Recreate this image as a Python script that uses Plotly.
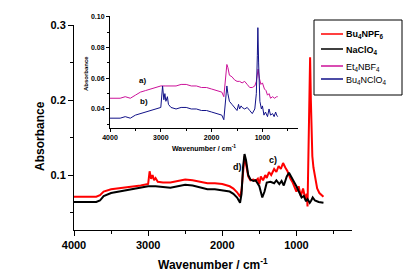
import plotly.graph_objects as go

# ---------------- main spectra ----------------
main_wn_black = [4000, 3700, 3650, 3600, 3500, 3400, 3300, 3200, 3100, 3000, 2900, 2800, 2700, 2600, 2500,
                 2400, 2300, 2200, 2100, 2000, 1900, 1850, 1800, 1760, 1740, 1720, 1700, 1680, 1650, 1620,
                 1580, 1550, 1500, 1460, 1430, 1400, 1350, 1300, 1270, 1230, 1200, 1170, 1130, 1100, 1080,
                 1050, 1000, 960, 930, 900, 870, 850, 820, 800, 780, 750, 700, 635]
naclo4 = [0.064, 0.064, 0.066, 0.072, 0.076, 0.078, 0.079, 0.082, 0.084, 0.085, 0.085, 0.084, 0.083, 0.085, 0.087,
          0.086, 0.083, 0.081, 0.081, 0.080, 0.078, 0.075, 0.070, 0.063, 0.075, 0.110, 0.128, 0.120, 0.100, 0.094,
          0.092, 0.093, 0.085, 0.070, 0.078, 0.090, 0.091, 0.089, 0.093, 0.088, 0.092, 0.086, 0.098, 0.103, 0.100,
          0.094, 0.085, 0.075, 0.070, 0.072, 0.065, 0.068, 0.063, 0.066, 0.070, 0.066, 0.064, 0.063]

main_wn_red = [4000, 3700, 3650, 3600, 3500, 3400, 3300, 3200, 3100, 3000, 2980, 2960, 2940, 2920, 2900, 2870,
               2800, 2700, 2600, 2500, 2400, 2300, 2200, 2100, 2000, 1900, 1850, 1800, 1760, 1740, 1720, 1700,
               1680, 1650, 1620, 1580, 1550, 1520, 1500, 1480, 1450, 1420, 1400, 1370, 1340, 1300, 1270, 1240,
               1210, 1180, 1150, 1120, 1080, 1050, 1000, 970, 940, 910, 880, 860, 850, 830, 815, 805, 795, 785,
               770, 757, 740, 720, 690, 660, 635]
bu4npf6 = [0.071, 0.071, 0.073, 0.078, 0.081, 0.082, 0.084, 0.085, 0.086, 0.088, 0.105, 0.095, 0.100, 0.093, 0.096, 0.091,
           0.090, 0.090, 0.092, 0.094, 0.093, 0.091, 0.089, 0.089, 0.088, 0.085, 0.082, 0.077, 0.071, 0.080, 0.108, 0.125,
           0.115, 0.098, 0.093, 0.094, 0.092, 0.095, 0.088, 0.098, 0.093, 0.100, 0.096, 0.104, 0.100, 0.108, 0.104, 0.112,
           0.108, 0.116, 0.110, 0.105, 0.095, 0.090, 0.078, 0.085, 0.072, 0.082, 0.068, 0.075, 0.058, 0.150, 0.257, 0.200,
           0.150, 0.125, 0.110, 0.103, 0.090, 0.082, 0.076, 0.073, 0.071]

# ---------------- inset spectra ----------------
inset_wn_mag = [4000, 3800, 3700, 3600, 3500, 3400, 3300, 3200, 3100, 3000, 2900, 2800, 2700, 2600, 2500, 2400,
                2300, 2200, 2100, 2000, 1900, 1800, 1760, 1730, 1700, 1680, 1650, 1600, 1550, 1500, 1450, 1400,
                1350, 1300, 1250, 1200, 1150, 1120, 1100, 1085, 1060, 1030, 1000, 960, 930, 900, 870, 840, 800,
                760, 720, 700]
et4nbf4 = [0.047, 0.047, 0.048, 0.047, 0.049, 0.051, 0.052, 0.053, 0.054, 0.055, 0.055, 0.055, 0.055, 0.056, 0.056, 0.055,
           0.055, 0.054, 0.054, 0.053, 0.052, 0.051, 0.048, 0.058, 0.069, 0.067, 0.062, 0.061, 0.059, 0.058, 0.058, 0.057,
           0.058, 0.056, 0.054, 0.054, 0.055, 0.058, 0.064, 0.066, 0.060, 0.056, 0.057, 0.053, 0.052, 0.049, 0.050, 0.047,
           0.048, 0.047, 0.048, 0.048]

inset_wn_blue = [4000, 3800, 3700, 3600, 3500, 3400, 3300, 3200, 3100, 3000, 2965, 2940, 2920, 2900, 2870, 2850,
                 2800, 2700, 2600, 2500, 2400, 2300, 2200, 2100, 2000, 1900, 1800, 1760, 1730, 1700, 1680, 1650,
                 1600, 1550, 1500, 1470, 1450, 1420, 1400, 1350, 1300, 1250, 1200, 1150, 1120, 1100, 1090, 1075,
                 1050, 1020, 1000, 970, 940, 900, 870, 840, 800, 770, 740, 720, 700]
bu4nclo4 = [0.034, 0.034, 0.035, 0.034, 0.036, 0.037, 0.038, 0.039, 0.040, 0.041, 0.055, 0.046, 0.050, 0.045, 0.048, 0.043,
            0.041, 0.040, 0.041, 0.041, 0.040, 0.040, 0.039, 0.039, 0.038, 0.037, 0.036, 0.033, 0.045, 0.055, 0.050, 0.045,
            0.043, 0.041, 0.039, 0.043, 0.040, 0.042, 0.041, 0.040, 0.041, 0.039, 0.037, 0.040, 0.050, 0.075, 0.093, 0.070,
            0.045, 0.040, 0.042, 0.036, 0.038, 0.035, 0.040, 0.036, 0.037, 0.035, 0.038, 0.036, 0.035]

main_x_ticks = [4000, 3000, 2000, 1000]
main_y_ticks = [0.1, 0.2, 0.3]
inset_x_ticks = [4000, 3000, 2000, 1000]
inset_y_ticks = [0.04, 0.06, 0.08, 0.10]

legend_labels = ["<b>Bu<sub>4</sub>NPF<sub>6</sub></b>", "<b>NaClO<sub>4</sub></b>",
                 "Et<sub>4</sub>NBF<sub>4</sub>", "Bu<sub>4</sub>NClO<sub>4</sub>"]
series_colors = ["#ff0000", "black", "#cc1199", "#111188"]

FONT = "Arial, Liberation Sans, sans-serif"

fig = go.Figure()
fig.add_trace(go.Scatter(x=main_wn_red, y=bu4npf6, mode="lines", line=dict(color=series_colors[0], width=2),
                         name=legend_labels[0], xaxis="x", yaxis="y"))
fig.add_trace(go.Scatter(x=main_wn_black, y=naclo4, mode="lines", line=dict(color=series_colors[1], width=2),
                         name=legend_labels[1], xaxis="x", yaxis="y"))
fig.add_trace(go.Scatter(x=inset_wn_mag, y=et4nbf4, mode="lines", line=dict(color=series_colors[2], width=1),
                         name=legend_labels[2], xaxis="x2", yaxis="y2"))
fig.add_trace(go.Scatter(x=inset_wn_blue, y=bu4nclo4, mode="lines", line=dict(color=series_colors[3], width=1),
                         name=legend_labels[3], xaxis="x2", yaxis="y2"))

W, H = 407, 275
L, R, T, B = 74, 55, 16, 45
pw, ph = W - L - R, H - T - B

def px_x(x):
    return (x - L) / pw

def px_y(y):
    return (H - B - y) / ph

fig.update_layout(
    width=W, height=H,
    margin=dict(l=L, r=R, t=T, b=B, autoexpand=False),
    paper_bgcolor="white", plot_bgcolor="white",
    font=dict(family=FONT, color="black"),
    showlegend=False,
    xaxis=dict(domain=[0, 1], range=[4000, 250], tickvals=main_x_ticks, ticktext=[str(v) for v in main_x_ticks],
               showline=True, linecolor="black", linewidth=1, ticks="outside", ticklen=5, tickcolor="black",
               minor=dict(ticks="outside", ticklen=3, dtick=500, tick0=0, tickcolor="black"),
               showgrid=False, zeroline=False, anchor="y",
               tickfont=dict(size=11, family=FONT, weight="bold")),
    yaxis=dict(domain=[0, px_y(25)], range=[0.0267, 0.3], tickvals=main_y_ticks,
               ticktext=["0.1", "0.2", "0.3"],
               showline=True, linecolor="black", linewidth=1, ticks="outside", ticklen=5, tickcolor="black",
               minor=dict(ticks="outside", ticklen=3, dtick=0.05, tick0=0, tickcolor="black"),
               showgrid=False, zeroline=False, anchor="x",
               tickfont=dict(size=11, family=FONT, weight="bold")),
    xaxis2=dict(domain=[px_x(110), px_x(298)], range=[4000, 300], tickvals=inset_x_ticks,
                ticktext=[str(v) for v in inset_x_ticks],
                showline=True, linecolor="black", linewidth=1, ticks="outside", ticklen=3, tickcolor="black",
                minor=dict(ticks="outside", ticklen=2, dtick=500, tick0=0, tickcolor="black"),
                showgrid=False, zeroline=False, anchor="y2",
                tickfont=dict(size=7, family=FONT, weight="bold")),
    yaxis2=dict(domain=[px_y(128), px_y(16)], range=[0.0276, 0.1006], tickvals=inset_y_ticks,
                ticktext=["0.04", "0.06", "0.08", "0.10"],
                showline=True, linecolor="black", linewidth=1, ticks="outside", ticklen=3, tickcolor="black",
                minor=dict(ticks="outside", ticklen=2, dtick=0.01, tick0=0, tickcolor="black"),
                showgrid=False, zeroline=False, anchor="x2",
                tickfont=dict(size=7, family=FONT, weight="bold")),
)

def note(text, x, y, size, xref="paper", yref="paper", angle=0, xanchor="center"):
    return dict(text=text, x=x, y=y, xref=xref, yref=yref, xanchor=xanchor, yanchor="middle",
                textangle=angle, showarrow=False, font=dict(size=size, family=FONT))

ann = [
    note("<b>Absorbance</b>", px_x(40), px_y(136), 12, angle=-90),
    note("<b>Wavenumber / cm<sup>-1</sup></b>", px_x(213), px_y(264), 12),
    note("<b>Absorbance</b>", px_x(86), px_y(74), 6, angle=-90),
    note("<b>Wavenumber / cm<sup>-1</sup></b>", px_x(204), px_y(148), 7),
    note("<b>a)</b>", 3360, 0.0588, 8, "x2", "y2"),
    note("<b>b)</b>", 3340, 0.045, 8, "x2", "y2"),
    note("<b>c)</b>", 1310, 0.12, 9, "x", "y"),
    note("<b>d)</b>", 1800, 0.1107, 9, "x", "y"),
]

# legend box drawn as shapes + text
shapes = [dict(type="rect", xref="paper", yref="paper", x0=px_x(314), x1=px_x(402), y0=px_y(95), y1=px_y(20),
               line=dict(color="black", width=1), fillcolor="white", layer="above")]
legend_rows = [34, 49, 66, 79]
for lab, col, yy in zip(legend_labels, series_colors, legend_rows):
    shapes.append(dict(type="line", xref="paper", yref="paper", x0=px_x(321), x1=px_x(343),
                       y0=px_y(yy), y1=px_y(yy), line=dict(color=col, width=1.5), layer="above"))
    ann.append(note(lab, px_x(344), px_y(yy + 1), 9, xanchor="left"))

fig.update_layout(annotations=ann, shapes=shapes)

fig.write_html("out.html")
